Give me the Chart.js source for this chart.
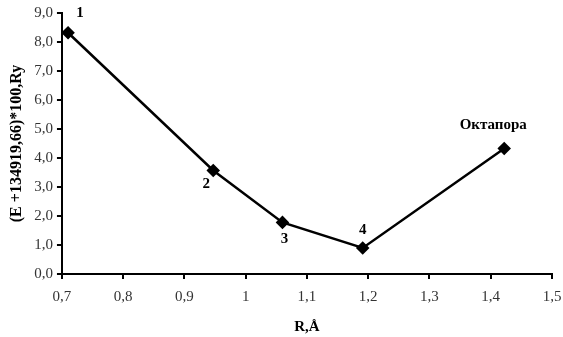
<!DOCTYPE html>
<html>
<head>
<meta charset="utf-8">
<script src="https://cdn.jsdelivr.net/npm/chart.js@4"></script>
<style>
  html, body { margin: 0; padding: 0; background: #fff; }
  #wrap { width: 563px; height: 337px; }
</style>
</head>
<body>
<div id="wrap"><canvas id="chart"></canvas></div>
<script>
// Данные графика
const rValues = [0.71, 0.947, 1.06, 1.191, 1.422];
const eValues = [8.32, 3.57, 1.78, 0.90, 4.33];
const pointNames = ['1', '2', '3', '4', 'Октапора'];
const xTitle = 'R,Å';
const yTitle = '(E +134919,66)*100,Ry';

// смещения подписей точек относительно маркера
const labelOffsets = [[12, -20], [-7, 14], [2, 17], [0, -18], [-11, -23]];

const pointLabels = {
    id: 'pointLabels',
    afterDatasetsDraw(chart) {
        const ctx = chart.ctx;
        const meta = chart.getDatasetMeta(0);
        ctx.save();
        ctx.font = 'bold 15px "Liberation Serif"';
        ctx.fillStyle = '#000';
        ctx.textAlign = 'center';
        ctx.textBaseline = 'middle';
        meta.data.forEach(function (pt, i) {
            ctx.fillText(pointNames[i], pt.x + labelOffsets[i][0], pt.y + labelOffsets[i][1]);
        });
        ctx.restore();
    }
};

function comma(v) {
    return String(Number(v.toFixed(1))).replace('.', ',');
}

const ctx = document.getElementById('chart').getContext('2d');
new Chart(ctx, {
    type: 'scatter',
    data: {
        datasets: [{
            data: rValues.map(function (r, i) { return { x: r, y: eValues[i] }; }),
            showLine: true,
            borderColor: '#000',
            backgroundColor: '#000',
            borderWidth: 2.5,
            pointStyle: 'rectRot',
            pointRadius: 5,
            pointHoverRadius: 5
        }]
    },
    options: {
        responsive: true,
        maintainAspectRatio: false,
        animation: false,
        layout: { padding: { left: 7, right: 11, top: 9, bottom: 1 } },
        plugins: {
            legend: { display: false },
            tooltip: { enabled: false }
        },
        scales: {
            x: {
                type: 'linear',
                min: 0.7,
                max: 1.5,
                // последняя подпись может выходить за область графика
                afterFit: function (scale) { scale.paddingRight = 0; },
                ticks: {
                    stepSize: 0.1,
                    color: '#333',
                    font: { family: 'Liberation Serif', size: 15 },
                    padding: 9,
                    maxRotation: 0,
                    callback: function (v) { return comma(v); }
                },
                grid: { display: true, drawOnChartArea: false, drawTicks: true, tickLength: 5, color: '#000', lineWidth: 2 },
                border: { display: true, color: '#000', width: 2 },
                title: {
                    display: true,
                    text: xTitle,
                    color: '#000',
                    font: { family: 'Liberation Serif', size: 15, weight: 'bold' },
                    padding: { top: 3, bottom: 0 }
                }
            },
            y: {
                min: 0,
                max: 9,
                ticks: {
                    stepSize: 1,
                    color: '#333',
                    font: { family: 'Liberation Serif', size: 15 },
                    padding: 4,
                    callback: function (v) { return v.toFixed(1).replace('.', ','); }
                },
                grid: { display: true, drawOnChartArea: false, drawTicks: true, tickLength: 5, color: '#000', lineWidth: 2 },
                border: { display: true, color: '#000', width: 2 },
                title: {
                    display: true,
                    text: yTitle,
                    color: '#000',
                    font: { family: 'Liberation Serif', size: 16, weight: 'bold' },
                    padding: { top: 0, bottom: 4 }
                }
            }
        }
    },
    plugins: [pointLabels]
});
</script>
</body>
</html>
